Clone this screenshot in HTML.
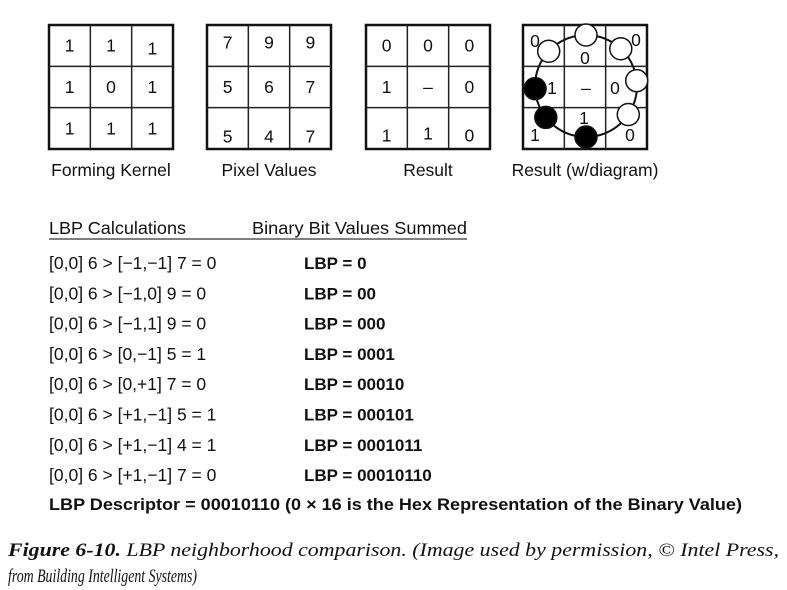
<!DOCTYPE html>
<html><head><meta charset="utf-8"><style>
html,body{margin:0;padding:0;background:#fff}
svg{display:block}
text{font-family:"Liberation Sans",sans-serif;fill:#111}
</style></head><body>
<svg width="787" height="590" viewBox="0 0 787 590">
<g id="grids"></g>
<g id="diagram"></g>
<g font-size="17.5" text-anchor="middle">
<text x="111" y="176">Forming Kernel</text>
<text x="269" y="176">Pixel Values</text>
<text x="428" y="176">Result</text>
<text x="585" y="176">Result (w/diagram)</text>
</g>
<text x="49" y="234" font-size="17.5" textLength="137" lengthAdjust="spacingAndGlyphs">LBP Calculations</text>
<text x="252" y="234" font-size="17.5" textLength="215" lengthAdjust="spacingAndGlyphs">Binary Bit Values Summed</text>
<line x1="49" y1="239" x2="467" y2="239" stroke="#555" stroke-width="1.5"/>
<g id="rows" font-size="17.5"></g>
<text x="49" y="510" font-size="17" font-weight="bold" textLength="693" lengthAdjust="spacingAndGlyphs">LBP Descriptor = 00010110 (0 × 16 is the Hex Representation of the Binary Value)</text>
<text x="8" y="556" font-size="19" font-style="italic" textLength="771" lengthAdjust="spacingAndGlyphs" style="font-family:'Liberation Serif',serif"><tspan font-weight="bold">Figure 6-10.</tspan> LBP neighborhood comparison. (Image used by permission, © Intel Press,</text>
<text x="8" y="582" font-size="19" font-style="italic" textLength="189" lengthAdjust="spacingAndGlyphs" style="font-family:'Liberation Serif',serif">from Building Intelligent Systems)</text>
</svg>
<script>
const NS="http://www.w3.org/2000/svg";
const kernel=[["1","1","1"],["1","0","1"],["1","1","1"]];
const pixels=[["7","9","9"],["5","6","7"],["5","4","7"]];
const result=[["0","0","0"],["1","–","0"],["1","1","0"]];
const calcs=["[0,0] 6 > [−1,−1] 7 = 0","[0,0] 6 > [−1,0] 9 = 0","[0,0] 6 > [−1,1] 9 = 0","[0,0] 6 > [0,−1] 5 = 1","[0,0] 6 > [0,+1] 7 = 0","[0,0] 6 > [+1,−1] 5 = 1","[0,0] 6 > [+1,−1] 4 = 1","[0,0] 6 > [+1,−1] 7 = 0"];
const lbps=["LBP = 0","LBP = 00","LBP = 000","LBP = 0001","LBP = 00010","LBP = 000101","LBP = 0001011","LBP = 00010110"];
const bits=[0,0,0,0,0,1,1,1]; // top-left, top, top-right, right, bottom-right, bottom, bottom-left, left
function mk(t,a,p){const e=document.createElementNS(NS,t);for(const k in a)e.setAttribute(k,a[k]);p.appendChild(e);return e;}
const G=document.getElementById('grids');
const gridX=[49,207,366,523], gy=25, gs=124;
function grid(x,vals,name,dy){
  const g=mk('g',{},G);
  
  
  const r=mk('rect',{x:x,y:gy,width:gs,height:gs,fill:'none',stroke:'#111','stroke-width':2.5},g);
  
  
  for(let i=1;i<3;i++){
    mk('line',{x1:x+gs*i/3,y1:gy,x2:x+gs*i/3,y2:gy+gs,stroke:'#222','stroke-width':1.5},g);
    mk('line',{x1:x,y1:gy+gs*i/3,x2:x+gs,y2:gy+gs*i/3,stroke:'#222','stroke-width':1.5},g);
  }
  if(!vals)return;
  for(let r2=0;r2<3;r2++)for(let c=0;c<3;c++){
    const t=mk('text',{x:x+gs*(c+0.5)/3,y:gy+gs*(r2+0.5)/3+6+(dy?dy[r2][c]:0),'font-size':17.5,'text-anchor':'middle'},g);
    t.textContent=vals[r2][c];
    
    
  }
}
grid(gridX[0],kernel,'forming-kernel-grid',[[0,0,3],[0,0,0],[0,0,0]]);
grid(gridX[1],pixels,'pixel-values-grid',[[-3,-3,-3],[0,0,0],[8,8,8]]);
grid(gridX[2],result,'result-grid',[[0,0,0],[0,0,0],[7,5,7]]);
grid(gridX[3],null,'result-diagram-grid');
// diagram
const D=document.getElementById('diagram');
const cx=586,cy=86,rx=51,ry=51;
mk('ellipse',{cx:cx,cy:cy,rx:rx,ry:ry,fill:'none',stroke:'#111','stroke-width':2},D);
const lab=[["0",535,47],["0",585,64],["0",636,46],["1",552,94],["–",586,94],["0",615,94],["1",584,124],["1",535,141],["0",630,141]];
lab.forEach(l=>{const t=mk('text',{x:l[1],y:l[2],'font-size':17.5,'text-anchor':'middle'},D);t.textContent=l[0];
  
  });
const ang=[-137,-90,-47,-6,34,90,142,177];
bits.forEach((b,i)=>{const a=ang[i]*Math.PI/180;
  const c=mk('circle',{cx:cx+rx*Math.cos(a),cy:cy+ry*Math.sin(a),r:11,fill:b?'#000':'#fff',stroke:'#111','stroke-width':1.5},D);
  
  });
// rows
const R=document.getElementById('rows');
calcs.forEach((s,i)=>{const y=269+i*30.3;
  const t=mk('text',{x:49,y:y},R);t.textContent=s;
  
  
  const u=mk('text',{x:304,y:y,'font-weight':'bold','font-size':17},R);u.textContent=lbps[i];
  
  });
</script>
</body></html>
